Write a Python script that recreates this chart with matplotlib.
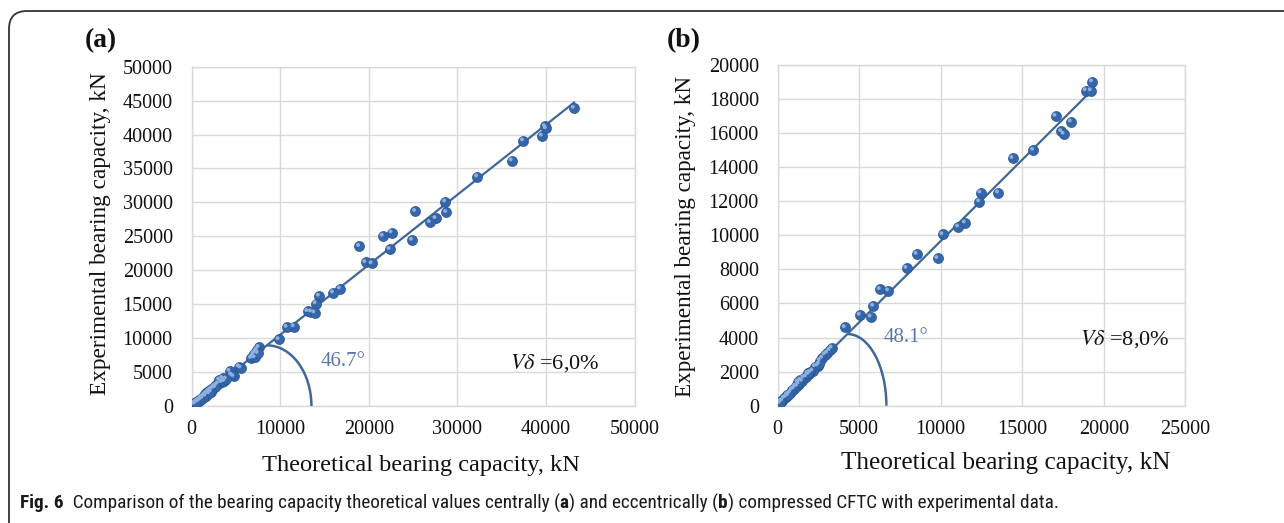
import numpy as np
import matplotlib
matplotlib.use('Agg')
import matplotlib.pyplot as plt
from matplotlib.patches import Arc, PathPatch
from matplotlib.path import Path
import matplotlib.transforms as mtransforms

# ---------------- data ----------------
# Panel (a): centrally compressed CFTC (theoretical, experimental), kN
a_theor = [43150, 39900, 40000, 39550, 37430, 36150, 32250, 28650, 28750, 25250,
           27550, 26900, 24900, 22600, 21600, 22380, 18930, 19650, 20350, 16760,
           15980, 14400, 14030, 13100, 13500, 13880, 11550, 10750, 9850,
           7600, 7400, 7250, 7050, 6900, 6750, 7150, 7500,
           5350, 5550, 4300, 4750, 4500, 3500, 3150, 3400, 3000, 2800, 2600, 2450,
           2300, 2100, 1950, 1800, 1700, 1550, 1400, 1300, 1150, 1050, 950, 850,
           750, 650, 550, 450, 350, 300, 2700, 2200, 1600, 1000, 3700, 3900, 2000,
           1250, 800, 500]
a_exper = [43900, 41200, 40900, 39800, 39100, 36150, 33800, 30100, 28550, 28700,
           27650, 27050, 24450, 25550, 25050, 23100, 23550, 21150, 21000, 17280,
           16700, 16200, 15100, 13950, 13900, 13750, 11700, 11620, 9800,
           8650, 8300, 8000, 7700, 7300, 7050, 7150, 7800,
           5800, 5650, 5150, 4350, 4600, 4100, 3850, 3500, 3300, 3050, 2900, 2650,
           2500, 2350, 2150, 2000, 1800, 1700, 1500, 1350, 1250, 1100, 950, 850,
           800, 650, 600, 500, 380, 300, 2750, 2100, 1500, 900, 3650, 4000, 1850,
           1150, 700, 450]

# Panel (b): eccentrically compressed CFTC (theoretical, experimental), kN
b_theor = [19290, 18900, 19210, 17050, 17990, 17400, 17550, 15680, 14410, 13530,
           12450, 12370, 11490, 11080, 10120, 9810, 8530, 7910, 6790, 6280, 5870,
           5710, 5050, 4130,
           3330, 3200, 3050, 2900, 2750, 2600, 2450, 2300, 2150, 2000, 1900, 1750,
           1600, 1500, 1400, 1300, 1200, 1100, 1000, 900, 800, 700, 600, 500, 400,
           300, 200, 150, 2550, 1850, 1250, 650]
b_exper = [19020, 18500, 18500, 17000, 16670, 16100, 15950, 15000, 14520, 12500,
           12500, 11980, 10740, 10500, 10050, 8650, 8900, 8070, 6750, 6830, 5850,
           5220, 5320, 4600,
           3400, 3250, 3100, 3000, 2800, 2650, 2350, 2300, 2050, 1950, 1850, 1700,
           1650, 1450, 1500, 1300, 1150, 1150, 1000, 950, 800, 700, 650, 500, 450,
           300, 250, 150, 2450, 1900, 1400, 600]

a_xticks = [0, 10000, 20000, 30000, 40000, 50000]
a_yticks = [0, 5000, 10000, 15000, 20000, 25000, 30000, 35000, 40000, 45000, 50000]
b_xticks = [0, 5000, 10000, 15000, 20000, 25000]
b_yticks = [0, 2000, 4000, 6000, 8000, 10000, 12000, 14000, 16000, 18000, 20000]

a_angle = "46.7°"
b_angle = "48.1°"
a_var = r"$V\delta$ =6,0%"
b_var = r"$V\delta$ =8,0%"
xlabel = "Theoretical bearing capacity, kN"
ylabel = "Experimental bearing capacity, kN"

# ---------------- figure ----------------
W, H = 1284, 523
SERIF = ['Liberation Serif', 'DejaVu Serif']
SANS = ['Liberation Sans Narrow', 'Roboto Condensed', 'Noto Sans Condensed',
        'Open Sans Condensed', 'Noto Sans', 'DejaVu Sans']
plt.rcParams['font.family'] = SERIF
plt.rcParams['mathtext.fontset'] = 'stix'
fig = plt.figure(figsize=(W / 100, H / 100), dpi=100)
fig.patch.set_facecolor('white')
renderer = fig.canvas.get_renderer()


def px_axes(l, t, r, b):
    return fig.add_axes([l / W, 1 - b / H, (r - l) / W, (b - t) / H])


GRID = '#d9d9d9'
PT = '#3566a9'
HL = '#8db0e2'
LINE = '#3f6899'
ANG = '#5878a6'


def style(ax, xlim, ylim, xt, yt):
    ax.set_xlim(*xlim)
    ax.set_ylim(*ylim)
    ax.set_xticks(xt)
    ax.set_yticks(yt)
    ax.set_xticklabels([str(v) for v in xt], fontfamily=SERIF)
    ax.set_yticklabels([str(v) for v in yt], fontfamily=SERIF)
    ax.grid(True, color=GRID, lw=1.0)
    ax.set_axisbelow(True)
    for s in ax.spines.values():
        s.set_color(GRID)
        s.set_linewidth(1.0)
    ax.tick_params(axis='both', length=0, labelsize=14.5, colors='#111111')
    ax.tick_params(axis='x', pad=10)
    ax.tick_params(axis='y', pad=13.5)


def panel(ax, xs, ys, arc_x0, arc_x1, angle_txt, angle_pos, var_txt, var_pos):
    xs = np.asarray(xs, float)
    ys = np.asarray(ys, float)
    k, b = np.polyfit(xs, ys, 1)
    lx = np.array([xs.min(), xs.max()])
    ax.plot(lx, k * lx + b, color=LINE, lw=1.6, zorder=3)
    ax.scatter(xs, ys, s=52, color=PT, edgecolors='#2a5590', linewidths=0.5, zorder=4)
    off = mtransforms.offset_copy(ax.transData, fig=fig, x=-1.3, y=1.3, units='dots')
    ax.scatter(xs, ys, s=8, color=HL, edgecolors='none', zorder=5, transform=off)
    y0 = k * arc_x0 + b
    ax.add_patch(Arc((arc_x0, 0), 2 * (arc_x1 - arc_x0), 2 * y0, theta1=0, theta2=90,
                     color=LINE, lw=1.8, zorder=3))
    ax.text(angle_pos[0], angle_pos[1], angle_txt, color=ANG, fontsize=15,
            family=SERIF, ha='center', va='center')
    ax.text(var_pos[0], var_pos[1], var_txt, color='#111111', fontsize=16,
            family=SERIF, ha='center', va='center')


axA = px_axes(191.5, 66.7, 634.7, 406)
style(axA, (0, 50000), (0, 50000), a_xticks, a_yticks)
panel(axA, a_theor, a_exper, 8500, 13530, a_angle, (17100, 6500), a_var, (41000, 6350))

axB = px_axes(777.6, 65, 1185.4, 405.7)
style(axB, (0, 25000), (0, 20000), b_xticks, b_yticks)
panel(axB, b_theor, b_exper, 4280, 6670, b_angle, (7870, 3980), b_var, (21270, 3920))


def fit_text(x, y, s, size_px, rotation=0, **kw):
    t = fig.text(x / W, 1 - y / H, s, ha='center', va='center', rotation=rotation, **kw)
    bb = t.get_window_extent(renderer)
    cur = bb.height if rotation == 90 else bb.width
    t.set_fontsize(t.get_fontsize() * size_px / cur)
    return t


fit_text(101, 233.5, ylabel, 323, rotation=90, family=SERIF, fontsize=16, color='#111111')
fit_text(685, 236, ylabel, 322, rotation=90, family=SERIF, fontsize=16, color='#111111')
fit_text(421, 466, xlabel, 318, family=SERIF, fontsize=16, color='#111111')
fit_text(1006, 463, xlabel, 330, family=SERIF, fontsize=16, color='#111111')
fit_text(101, 41, "(a)", 32, family=SERIF, fontsize=18, weight='bold', color='#111111')
fit_text(684, 41, "(b)", 34, family=SERIF, fontsize=18, weight='bold', color='#111111')

# ---------------- caption with mixed weights ----------------
pieces = [("Fig. 6", 'bold'),
          ("  Comparison of the bearing capacity theoretical values centrally (", 'normal'),
          ("a", 'bold'),
          (") and eccentrically (", 'normal'),
          ("b", 'bold'),
          (") compressed CFTC with experimental data.", 'normal')]


def draw_caption(size):
    texts = []
    x = 20.0
    for s, w in pieces:
        t = fig.text(x / W, 1 - 503 / H, s, ha='left', va='center', fontsize=size,
                     weight=w, family=SANS, fontstretch='condensed', color='#1a1a1a')
        bb = t.get_window_extent(renderer)
        x += bb.width
        texts.append(t)
    return texts, x


texts, xend = draw_caption(12)
scale = (1062 - 20) / (xend - 20)
for t in texts:
    t.remove()
draw_caption(12 * scale)

# ---------------- frame (left + top with rounded corner) ----------------
r = 18
x0, y0 = 9, 11
verts = [(x0, H), (x0, y0 + r), (x0, y0), (x0 + r, y0), (W, y0)]
codes = [Path.MOVETO, Path.LINETO, Path.CURVE3, Path.CURVE3, Path.LINETO]
verts = [(vx / W, 1 - vy / H) for vx, vy in verts]
fig.add_artist(PathPatch(Path(verts, codes), transform=fig.transFigure,
                         fill=False, edgecolor='#333333', lw=1.3))

fig.savefig('out.png', dpi=100, facecolor='white')
